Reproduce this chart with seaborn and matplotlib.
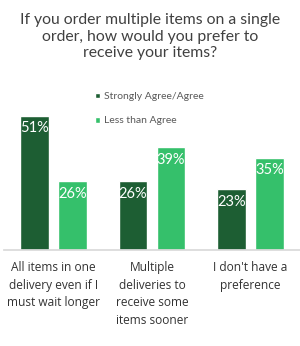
import pandas as pd
import seaborn as sns
import matplotlib.pyplot as plt

# Datos
categorias = ["All items in one\ndelivery even if I\nmust wait longer",
              "Multiple\ndeliveries to\nreceive some\nitems sooner",
              "I don't have a\npreference"]
series = ["Strongly Agree/Agree", "Less than Agree"]
acuerdo = [51, 26, 23]
menos = [26, 39, 35]

colores = ["#1d5e33", "#35c06b"]

df = pd.DataFrame({
    "cat": categorias * 2,
    "serie": [series[0]] * 3 + [series[1]] * 3,
    "valor": acuerdo + menos,
})

sns.set_theme(style="white")
plt.rcParams["font.family"] = ["Lato", "DejaVu Sans"]

fig = plt.figure(figsize=(3.0, 3.46), dpi=100)
ax = fig.add_axes([4 / 300, 1 - 250 / 346, 296 / 300, 145 / 346])

sns.barplot(data=df, x="cat", y="valor", hue="serie", palette=colores,
            saturation=1, width=0.77, gap=0.24, ax=ax, legend=True)

ax.set_ylim(0, 55)
ax.set_xlim(-0.5, 2.5)
ax.set_xlabel("")
ax.set_ylabel("")
ax.set_yticks([])
sns.despine(ax=ax, left=True)
ax.spines["bottom"].set_color("#d9d9d9")
ax.tick_params(axis="x", length=0, pad=8)
for t in ax.get_xticklabels():
    t.set_fontfamily(["Open Sans", "DejaVu Sans"])
    t.set_fontsize(8.6)
    t.set_color("#333333")
    t.set_linespacing(1.45)
    t.set_va("top")

# Etiquetas dentro de las barras
for cont in ax.containers:
    for bar in cont:
        h = bar.get_height()
        ax.annotate(f"{h:.0f}%", (bar.get_x() + bar.get_width() / 2, h),
                    xytext=(0, -4), textcoords="offset points",
                    ha="center", va="top", color="white", fontsize=10.5)

# Leyenda
handles, labels = ax.get_legend_handles_labels()
ax.get_legend().remove()
fig.legend(handles, labels, loc="upper left", bbox_to_anchor=(90 / 300, 1 - 87 / 346),
           frameon=False, fontsize=7.5, handlelength=0.5, handleheight=0.5,
           handletextpad=0.3, labelspacing=1.45, borderpad=0, labelcolor="#595959")

fig.text(0.5, 1 - 13 / 346,
         "If you order multiple items on a single\norder, how would you prefer to\nreceive your items?",
         ha="center", va="top", fontsize=11.3, color="#404040", linespacing=1.25)

fig.savefig("out.png", dpi=100)
